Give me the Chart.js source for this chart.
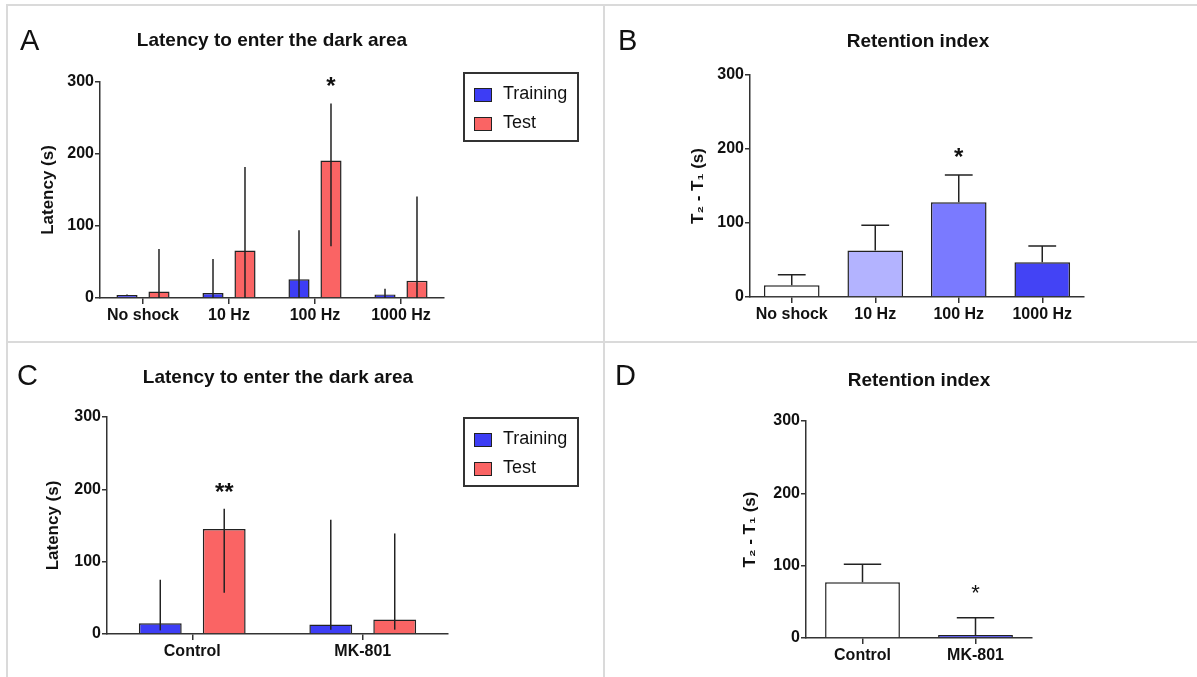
<!DOCTYPE html>
<html>
<head>
<meta charset="utf-8">
<script src="https://cdn.jsdelivr.net/npm/chart.js@4.4.1/dist/chart.umd.min.js"></script>
<style>
  body { margin: 0; background: #fff; font-family: 'Liberation Sans', Arial, sans-serif; }
  #wrap { position: relative; width: 1197px; height: 677px; overflow: hidden; }
  canvas { position: absolute; }
  .rule { position: absolute; background: #dadada; }
  .letter { position: absolute; font-size: 29px; line-height: 1; color: #111; }
  .title { position: absolute; width: 400px; text-align: center; font-size: 19px; font-weight: bold; line-height: 1; color: #111; }
  .legend { position: absolute; box-sizing: border-box; border: 2px solid #333; width: 116px; height: 70px; }
  .swatch { position: absolute; box-sizing: border-box; width: 18px; height: 14px; border: 1.5px solid #222; }
  .ltext { position: absolute; font-size: 18px; line-height: 1; color: #111; }
</style>
</head>
<body>
<div id="wrap">
  <div class="rule" style="left:7px;top:4px;width:1190px;height:2px"></div>
  <div class="rule" style="left:6px;top:4px;width:2px;height:673px"></div>
  <div class="rule" style="left:603px;top:4px;width:2px;height:673px"></div>
  <div class="rule" style="left:7px;top:341px;width:1190px;height:2px"></div>

  <canvas id="chartA" width="600" height="340" style="left:0;top:0"></canvas>
  <canvas id="chartB" width="597" height="340" style="left:600px;top:0"></canvas>
  <canvas id="chartC" width="600" height="337" style="left:0;top:340px"></canvas>
  <canvas id="chartD" width="597" height="337" style="left:600px;top:340px"></canvas>

  <div class="letter" style="left:20px;top:26px">A</div>
  <div class="letter" style="left:618px;top:26px">B</div>
  <div class="letter" style="left:17px;top:361px">C</div>
  <div class="letter" style="left:615px;top:361px">D</div>

  <div class="title" style="left:72px;top:30px">Latency to enter the dark area</div>
  <div class="title" style="left:718px;top:31px">Retention index</div>
  <div class="title" style="left:78px;top:367px">Latency to enter the dark area</div>
  <div class="title" style="left:719px;top:370px">Retention index</div>

  <div id="legendA"></div>
  <div id="legendC"></div>
</div>
<script>
// panel A - latency by stimulation frequency
const freqLabels = ['No shock', '10 Hz', '100 Hz', '1000 Hz']
const trainA = [4, 7, 26, 5]
const trainAHigh = [5, 54, 94, 13]
const trainALow = [3, 0, 0, 0]
const testA = [9, 66, 191, 24]
const testAHigh = [68, 182, 270, 141]
const testALow = [0, 0, 72, 0]
const starsA = ['', '', '*', '']

// panel B - retention index by frequency
const retB = [16, 63, 128, 47]
const retBHigh = [30, 97, 165, 69]
const starsB = ['', '', '*', '']

// panel C - latency, control vs MK-801
const groupLabels = ['Control', 'MK-801']
const trainC = [15, 13]
const trainCHigh = [75, 158]
const trainCLow = [5, 6]
const testC = [145, 20]
const testCHigh = [173, 139]
const testCLow = [57, 6]
const starsC = ['**', '']

// panel D - retention index, control vs MK-801
const retD = [77, 4]
const retDHigh = [102, 28]
const starsD = ['', '*']

const yTicks = [0, 100, 200, 300]
const seriesNames = ['Training', 'Test']

const BLUE = '#3d3df5'
const RED = '#fa6464'
const INK = '#333'
Chart.defaults.font.family = "'Liberation Sans', Arial, sans-serif"
Chart.defaults.color = '#111'

// vertical error lines (+ optional caps) and significance stars
const errorBars = {
    id: 'errorBars',
    afterDatasetsDraw(chart, args, opts){
        const ctx = chart.ctx
        const y = chart.scales.y
        chart.data.datasets.forEach((ds, di) => {
            const meta = chart.getDatasetMeta(di)
            meta.data.forEach((bar, i) => {
                const lo = ds.errLow ? ds.errLow[i] : ds.data[i]
                const yHi = y.getPixelForValue(ds.errHigh[i])
                const yLo = y.getPixelForValue(lo)
                ctx.save()
                ctx.strokeStyle = '#222'
                ctx.lineWidth = 1.5
                ctx.beginPath()
                ctx.moveTo(bar.x, yLo)
                ctx.lineTo(bar.x, yHi)
                if(opts.caps){
                    const w = bar.width / 4
                    ctx.moveTo(bar.x - w, yHi)
                    ctx.lineTo(bar.x + w, yHi)
                }
                ctx.stroke()
                if(ds.stars && ds.stars[i]){
                    ctx.fillStyle = '#111'
                    ctx.font = opts.starFont
                    ctx.textAlign = 'center'
                    ctx.textBaseline = 'alphabetic'
                    ctx.fillText(ds.stars[i], bar.x, yHi - opts.starGap)
                }
                ctx.restore()
            })
        })
    }
}

function makeChart(canvasId, labels, datasets, cfg){
    return new Chart(document.getElementById(canvasId), {
        type: 'bar',
        data: { labels: labels, datasets: datasets },
        plugins: [errorBars],
        options: {
            responsive: false,
            animation: false,
            devicePixelRatio: 1,
            categoryPercentage: cfg.catPct,
            barPercentage: cfg.barPct,
            layout: { padding: cfg.padding },
            scales: {
                x: {
                    offset: true,
                    afterFit: s => { s.height = 30 },
                    grid: { drawOnChartArea: false, offset: false, tickLength: 6, color: INK, lineWidth: 1.5 },
                    border: { color: INK, width: 1.5 },
                    ticks: { padding: 2, font: { size: 16, weight: 'bold' }, color: '#111' }
                },
                y: {
                    min: 0,
                    max: 300,
                    afterFit: s => { s.width = cfg.yWidth },
                    afterBuildTicks: s => { s.ticks = yTicks.map(v => ({ value: v })) },
                    grid: { drawOnChartArea: false, tickLength: 5, color: INK, lineWidth: 1.5 },
                    border: { color: INK, width: 1.5 },
                    ticks: { padding: 1, font: { size: 16, weight: 'bold' }, color: '#111' },
                    title: { display: true, text: cfg.yTitle, font: { size: 17, weight: 'bold' }, color: '#111' }
                }
            },
            plugins: {
                legend: { display: false },
                tooltip: { enabled: false },
                errorBars: { caps: cfg.caps, starFont: cfg.starFont, starGap: cfg.starGap }
            }
        }
    })
}

const barStyle = { borderColor: '#222', borderWidth: 1.5, borderSkipped: 'bottom' }

makeChart('chartA', freqLabels, [
    { label: seriesNames[0], data: trainA, errHigh: trainAHigh, errLow: trainALow, backgroundColor: BLUE, ...barStyle },
    { label: seriesNames[1], data: testA, errHigh: testAHigh, errLow: testALow, stars: starsA, backgroundColor: RED, ...barStyle }
], { catPct: 0.744, barPct: 0.66, padding: { left: 34, top: 82, right: 156, bottom: 12 }, yWidth: 66,
     yTitle: 'Latency (s)', caps: false, starFont: 'bold 24px Liberation Sans', starGap: 10 })

makeChart('chartB', freqLabels, [
    { label: 'Retention', data: retB, errHigh: retBHigh, stars: starsB,
      backgroundColor: ['#ffffff', '#b3b3ff', '#7a7aff', '#4343f5'], ...barStyle }
], { catPct: 1, barPct: 0.666, padding: { left: 84, top: 75, right: 113, bottom: 13 }, yWidth: 66,
     yTitle: 'T\u2082 - T\u2081 (s)', caps: true, starFont: 'bold 24px Liberation Sans', starGap: 10 })

makeChart('chartC', groupLabels, [
    { label: seriesNames[0], data: trainC, errHigh: trainCHigh, errLow: trainCLow, backgroundColor: BLUE, ...barStyle },
    { label: seriesNames[1], data: testC, errHigh: testCHigh, errLow: testCLow, stars: starsC, backgroundColor: RED, ...barStyle }
], { catPct: 0.75, barPct: 0.67, padding: { left: 39, top: 77, right: 152, bottom: 13 }, yWidth: 68,
     yTitle: 'Latency (s)', caps: false, starFont: 'bold 24px Liberation Sans', starGap: 9 })

makeChart('chartD', groupLabels, [
    { label: 'Retention', data: retD, errHigh: retDHigh, stars: starsD,
      backgroundColor: ['#ffffff', BLUE], ...barStyle }
], { catPct: 1, barPct: 0.662, padding: { left: 136, top: 81, right: 165, bottom: 9 }, yWidth: 70,
     yTitle: 'T\u2082 - T\u2081 (s)', caps: true, starFont: '22px Liberation Sans', starGap: 18 })

// legends for A and C
function buildLegend(id, top){
    const box = document.getElementById(id)
    box.className = 'legend'
    box.style.left = '463px'
    box.style.top = top + 'px'
    const colors = [BLUE, RED]
    seriesNames.forEach((name, i) => {
        const sw = document.createElement('div')
        sw.className = 'swatch'
        sw.style.background = colors[i]
        sw.style.left = '9px'
        sw.style.top = (14 + i * 29) + 'px'
        box.appendChild(sw)
        const t = document.createElement('div')
        t.className = 'ltext'
        t.textContent = name
        t.style.left = '38px'
        t.style.top = (10 + i * 29) + 'px'
        box.appendChild(t)
    })
}
buildLegend('legendA', 72)
buildLegend('legendC', 417)
</script>
</body>
</html>
